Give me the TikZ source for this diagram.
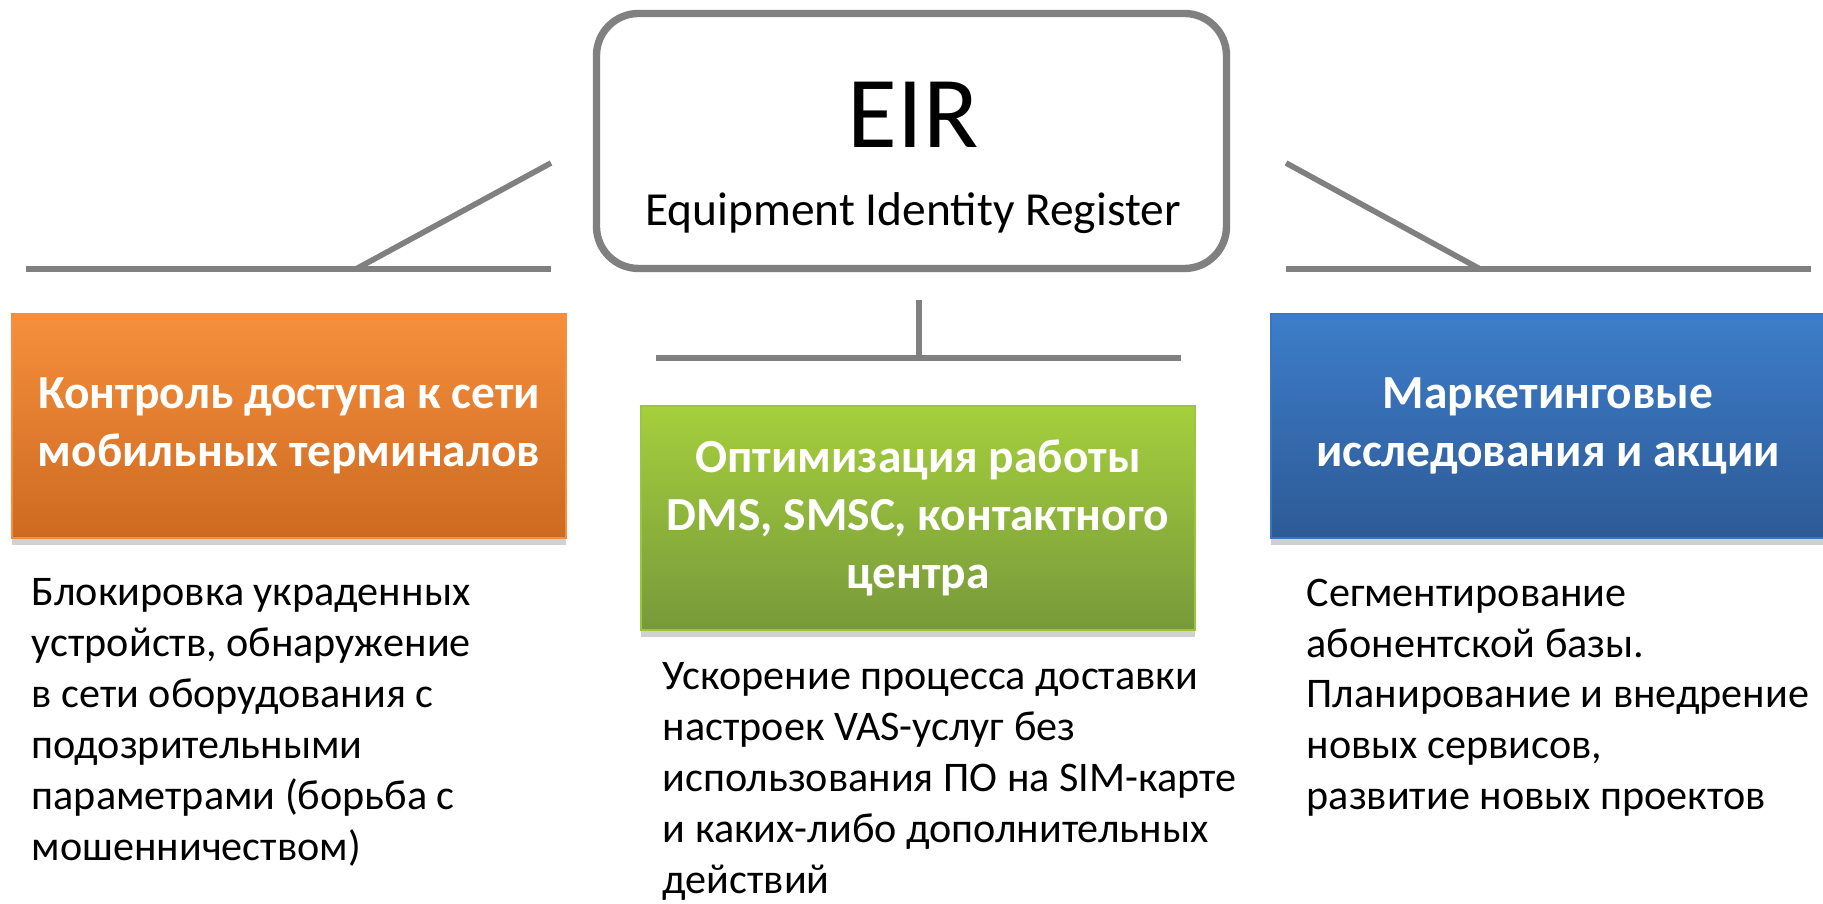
\documentclass[tikz,border=0pt]{standalone}
\usepackage{fontspec}
\setmainfont{Carlito}
\usetikzlibrary{shadows}

\begin{document}
\begin{tikzpicture}[
    link/.style={draw=linegray, line width=1.6pt},
    headbox/.style={minimum width=5.54cm, minimum height=2.24cm, inner sep=0pt, align=center, text=white, line width=0.8pt, font=\fontsize{13.5}{16.6}\selectfont\bfseries, drop shadow={shadow xshift=0cm, shadow yshift=-0.07cm, opacity=0.3, fill=black!60}},
    bodytext/.style={anchor=north west, align=left, inner sep=0pt, font=\fontsize{12}{14.5}\selectfont}
]
    \definecolor{linegray}{RGB}{128,128,128};
    \definecolor{orangetop}{RGB}{246,143,61};
    \definecolor{orangebot}{RGB}{205,106,33};
    \definecolor{greentop}{RGB}{166,207,61};
    \definecolor{greenbot}{RGB}{119,153,58};
    \definecolor{bluetop}{RGB}{61,125,202};
    \definecolor{bluebot}{RGB}{45,90,150};

    \useasboundingbox (0,0) rectangle (18.23,9.04);

    % EIR box
    \node [draw=linegray, line width=2.1pt, rounded corners=0.42cm, minimum width=6.30cm, minimum height=2.55cm] (eir) at (9.115,7.63) {};
    \node [font=\fontsize{29}{34}\selectfont] (eirname) at (9.13,7.89) {EIR};
    \node [font=\fontsize{13.5}{16}\selectfont] (eirfull) at (9.13,6.91) {Equipment Identity Register};

    % left bracket
    \coordinate (la) at (0.26,6.35);
    \coordinate (lb) at (5.51,6.35);
    \coordinate (lk) at (3.56,6.35);
    \coordinate (lt) at (5.51,7.41);
    \draw [link] (la) -- (lb);
    \draw [link] (lk) -- (lt);

    % right bracket
    \coordinate (ra) at (12.86,6.35);
    \coordinate (rb) at (18.11,6.35);
    \coordinate (rk) at (14.80,6.35);
    \coordinate (rt) at (12.86,7.41);
    \draw [link] (ra) -- (rb);
    \draw [link] (rk) -- (rt);

    % middle bracket
    \coordinate (ca) at (9.19,6.04);
    \coordinate (cb) at (9.19,5.46);
    \coordinate (cl) at (6.56,5.46);
    \coordinate (cr) at (11.81,5.46);
    \draw [link] (ca) -- (cb);
    \draw [link] (cl) -- (cr);

    \node [headbox, draw=orangetop, top color=orangetop, middle color=orangetop!92!orange, bottom color=orangebot] (ctrl) at (2.89,4.78) {Контроль доступа к сети\\мобильных терминалов};
    \node [headbox, draw=greentop!80!greenbot, top color=greentop, bottom color=greenbot] (optim) at (9.18,3.86) {Оптимизация работы\\DMS, SMSC, контактного\\центра};
    \node [headbox, draw=bluetop!80!bluebot, top color=bluetop, bottom color=bluebot] (mkt) at (15.48,4.78) {Маркетинговые\\исследования и акции};

    \node [bodytext] (ctrltxt) at (0.31,3.26) {Блокировка украденных\\устройств, обнаружение\\в сети оборудования с\\подозрительными\\параметрами (борьба с\\мошенничеством)};
    \node [bodytext] (optimtxt) at (6.62,2.42) {Ускорение процесса доставки\\настроек VAS-услуг без\\использования ПО на SIM-карте\\и каких-либо дополнительных\\действий};
    \node [bodytext] (mkttxt) at (13.06,3.26) {Сегментирование\\абонентской базы.\\Планирование и внедрение\\новых сервисов,\\развитие новых проектов};

\end{tikzpicture}
\end{document}
